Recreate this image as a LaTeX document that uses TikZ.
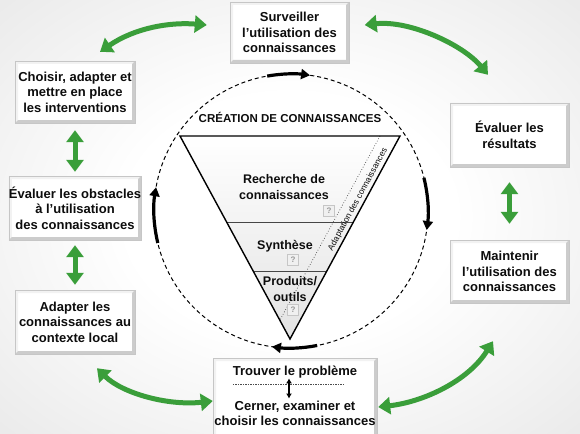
\documentclass[tikz,border=0pt]{standalone}
\usepackage{fontspec}
\setmainfont{Liberation Sans}
\usetikzlibrary{arrows.meta,calc}
\definecolor{grn}{RGB}{58,158,58}
\definecolor{bgA}{gray}{0.92}
\definecolor{bgB}{gray}{0.78}
\definecolor{bgC}{gray}{0.63}
\definecolor{bgD}{gray}{0.54}
\definecolor{txtc}{gray}{0.05}
\pgfdeclareradialshading{bgshade}{\pgfpoint{0bp}{0bp}}{color(0bp)=(white);color(10bp)=(white);color(25bp)=(bgA);color(38bp)=(bgB);color(50bp)=(bgC);color(71bp)=(bgD)}
\begin{document}
\begin{tikzpicture}[x=1pt,y=-1pt,
  box/.style={rectangle, fill=white, draw=gray!45, line width=0.4pt, align=center, inner sep=0pt,
    text=txtc, font=\fontsize{13}{15.5}\selectfont\bfseries,
    path picture={
      \fill[gray!10] (path picture bounding box.north west) -- (path picture bounding box.north east)
        -- ([shift={(-3pt,-3pt)}]path picture bounding box.north east)
        -- ([shift={(3pt,-3pt)}]path picture bounding box.north west)
        -- ([shift={(3pt,3pt)}]path picture bounding box.south west)
        -- (path picture bounding box.south west) -- cycle;
      \fill[gray!40] (path picture bounding box.north east) -- (path picture bounding box.south east)
        -- (path picture bounding box.south west)
        -- ([shift={(3pt,3pt)}]path picture bounding box.south west)
        -- ([shift={(-3pt,3pt)}]path picture bounding box.south east)
        -- ([shift={(-3pt,-3pt)}]path picture bounding box.north east) -- cycle;
    }},
  txt/.style={align=center, inner sep=0pt, text=txtc, font=\fontsize{13}{15}\selectfont\bfseries},
  inlbl/.style={align=center, inner sep=0pt, text=txtc, font=\fontsize{12.5}{16}\selectfont\bfseries},
  qbox/.style={rectangle, draw=gray!45, fill=gray!12, minimum size=11pt, inner sep=0pt, text=gray!80, font=\fontsize{8}{8}\selectfont\bfseries},
  garrow/.style={draw=grn, line width=5pt, {Triangle[length=12pt,width=17pt]}-{Triangle[length=12pt,width=17pt]}},
  cyc/.style={line width=3.2pt, -{Triangle[length=9pt,width=10pt]}}
]
\clip (0,0) rectangle (580,433);
\shade[shading=bgshade] (-120,-89.5) rectangle (700,522.5);

% circle of knowledge creation
\coordinate (cc) at (291,211);
\draw[line width=1pt, dash pattern=on 4pt off 3pt] (cc) circle[radius=137];
\draw[cyc] ($(cc)+(-100:137)$) arc[start angle=-100, end angle=-82, radius=137];
\draw[cyc] ($(cc)+(-14:137)$) arc[start angle=-14, end angle=8, radius=137];
\draw[cyc] ($(cc)+(79:137)$) arc[start angle=79, end angle=98, radius=137];
\draw[cyc] ($(cc)+(166.5:137)$) arc[start angle=166.5, end angle=190, radius=137];

% funnel
\coordinate (tl) at (180,136);
\coordinate (tr) at (400,136);
\coordinate (bt) at (290,339);
\shade[top color=white, bottom color=gray!22] (tl) -- (tr) -- (bt) -- cycle;
\draw[gray!55!black, line width=0.7pt] ($(tl)!0.4236!(bt)$) -- ($(tr)!0.4236!(bt)$);
\draw[gray!55!black, line width=0.7pt] ($(tl)!0.665!(bt)$) -- ($(tr)!0.665!(bt)$);
\draw[dotted, gray!55!black, line width=0.7pt] ($(tr)+(-20,0)$) -- ($(tr)+(-120,184)$);
\draw[line width=1.4pt, line join=miter] (tl) -- (tr) -- (bt) -- cycle;

\node[inner sep=0pt, text=txtc, font=\fontsize{11.5}{13}\selectfont\bfseries] (creation) at (290,117) {CRÉATION DE CONNAISSANCES};
\node[inlbl] (rech) at (284,187) {Recherche de\\connaissances};
\node[inlbl] (synth) at (285,246) {Synthèse};
\node[inlbl] (prod) at (290,289.5) {Produits/\\outils};
\node[qbox] (q1) at (329,211) {?};
\node[qbox] (q2) at (293,260) {?};
\node[qbox] (q3) at (293,310) {?};
\node[rotate=61.5, inner sep=0pt, text=txtc, font=\fontsize{8.5}{10}\selectfont] (adapt) at (358,199.5) {Adaptation des connaissances};

% boxes
\node[box, minimum width=119pt, minimum height=61pt] (surv) at (289.5,32.5) {Surveiller\\l’utilisation des\\connaissances};
\node[box, minimum width=120pt, minimum height=62pt] (choisir) at (75,92) {Choisir, adapter et\\mettre en place\\les interventions};
\node[box, minimum width=132pt, minimum height=64pt] (obst) at (75,208) {Évaluer les obstacles\\à l’utilisation\\des connaissances};
\node[box, minimum width=120pt, minimum height=64pt] (adapter) at (75,322) {Adapter les\\connaissances au\\contexte local};
\node[box, minimum width=119pt, minimum height=64pt] (evalres) at (509.5,135) {Évaluer les\\résultats};
\node[box, minimum width=119pt, minimum height=63pt] (maint) at (509.5,271.5) {Maintenir\\l’utilisation des\\connaissances};
\node[box, minimum width=164pt, minimum height=82pt] (prob) at (295,399) {};
\node[txt] (trouver) at (295,372) {Trouver le problème};
\node[txt] (cerner) at (295,413) {Cerner, examiner et\\choisir les connaissances};
\draw[dash pattern=on 1.5pt off 1pt, gray!60!black, line width=0.5pt] ($(prob.west)+(20,-15)$) -- ($(prob.east)+(-34,-15)$);
\draw[line width=1.6pt, {Latex[length=5pt,width=6pt]}-{Latex[length=5pt,width=6pt]}, shorten >=2pt] ([xshift=-6pt]trouver.south) -- ([xshift=-6pt]cerner.north);

% green connectors
\draw[garrow] ([yshift=-7pt]choisir.south) -- ([yshift=4pt]obst.north);
\draw[garrow] ([yshift=-5pt]obst.south) -- ([yshift=5pt]adapter.north);
\draw[garrow] ([yshift=-15pt]evalres.south) -- ([yshift=16pt]maint.north);
\draw[garrow] ($(choisir.north)+(25,-9)$) .. controls +(35,-24) and +(-37,-3) .. ($(surv.west)+(-23,-7.5)$);
\draw[garrow] ($(surv.east)+(15.5,-7.5)$) .. controls +(45,-5) and +(-25,-30) .. ($(evalres.north)+(-21.5,-28)$);
\draw[garrow] ($(adapter.south)+(22,14)$) .. controls +(25,25) and +(-45,5) .. ($(prob.west)+(0,2)$);
\draw[garrow] ($(prob.east)+(1,8)$) .. controls +(45,-5) and +(-25,40) .. ($(maint.south)+(-16.5,38)$);
\end{tikzpicture}
\end{document}
